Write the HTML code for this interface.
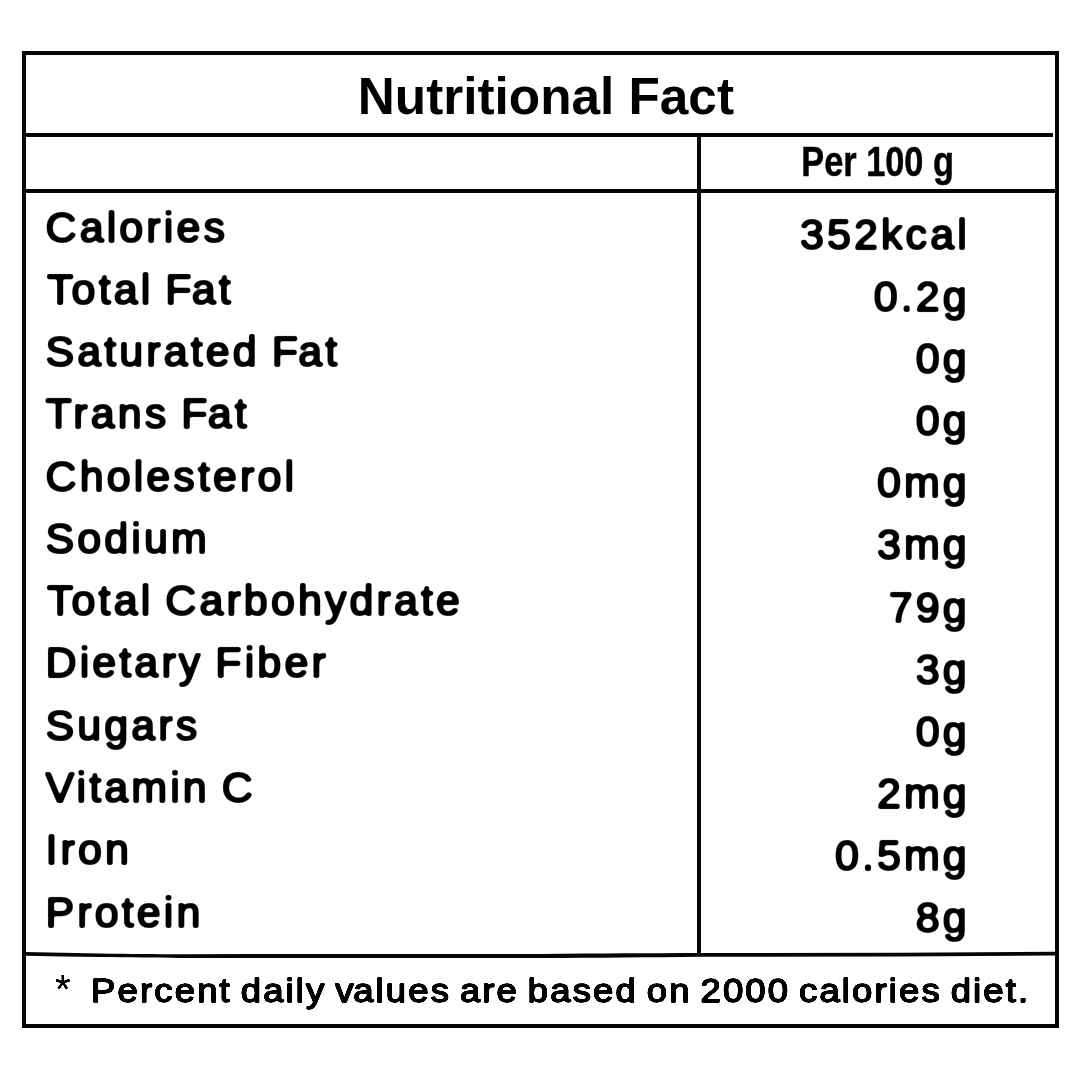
<!DOCTYPE html>
<html lang="en">
<head>
<meta charset="utf-8">
<title>Nutritional Fact</title>
<style>
html,body{margin:0;padding:0;background:#fff;}
body{width:1080px;height:1080px;overflow:hidden;}
svg{display:block;}
text{font-family:"Liberation Sans",sans-serif;fill:#000;}
.t{font-weight:700;font-size:51.3px;text-anchor:middle;}
.p{font-weight:700;font-size:42.5px;text-anchor:middle;stroke:#000;stroke-width:0.5;}
.l,.v{font-size:43px;letter-spacing:3.1px;word-spacing:-3.1px;stroke:#000;stroke-width:2.0;stroke-linejoin:round;stroke-linecap:round;}
.v{text-anchor:end;}
.f{font-size:33px;letter-spacing:1.93px;word-spacing:-3.1px;stroke:#000;stroke-width:1.5;stroke-linejoin:round;stroke-linecap:round;}
.a{font-size:40px;stroke:#000;stroke-width:0.2;stroke-linejoin:round;}
</style>
</head>
<body>
<svg width="1080" height="1080" viewBox="0 0 1080 1080">
<rect x="0" y="0" width="1080" height="1080" fill="#fff"/>
<defs>
<filter id="rnd" x="0" y="0" width="1080" height="1080" filterUnits="userSpaceOnUse" color-interpolation-filters="sRGB">
<feGaussianBlur in="SourceAlpha" stdDeviation="1.0"/>
<feComponentTransfer><feFuncA type="linear" slope="2.6" intercept="-0.8"/></feComponentTransfer>
</filter>
<filter id="rnd2" x="0" y="940" width="1080" height="100" filterUnits="userSpaceOnUse" color-interpolation-filters="sRGB">
<feGaussianBlur in="SourceAlpha" stdDeviation="0.75"/>
<feComponentTransfer><feFuncA type="linear" slope="2.2" intercept="-0.6"/></feComponentTransfer>
</filter>
</defs>
<g fill="#03070b">
<rect x="22" y="51" width="1037" height="4"/>
<rect x="22" y="1024" width="1037" height="4"/>
<rect x="22" y="51" width="4" height="977"/>
<rect x="1055" y="51" width="4" height="977"/>
<rect x="24" y="133" width="1029" height="4"/>
<rect x="24" y="189" width="1033" height="4"/>
<rect x="697" y="135" width="4" height="820"/>
<path d="M25 952.1 C 50 952.8 75 953.2 100 953.4 C 130 953.8 155 954.1 180 954.2 L 400 953.9 L 540 953.9 C 600 953.6 650 953.3 700 953.1 L 900 952.7 L 1056 951.7 L 1056 955.4 L 900 956.6 L 700 956.7 C 650 957.2 600 957.8 540 958 L 400 958 L 180 958 C 155 957.9 130 957.5 100 957.1 C 75 956.8 50 956.3 25 955.7 Z"/>
</g>

<text class="t" x="545.9" y="113.8">Nutritional Fact</text>
<text class="p" transform="translate(877.6 175.8) scale(0.808 1)" x="0" y="0">Per 100 g</text>
<g filter="url(#rnd)">
<text class="l" x="45.5" y="241.60">Calories</text>
<text class="v" x="969.9" y="248.60">352kcal</text>
<text class="l" x="47.0" y="303.87" dx="0 0 0 0 0 0 0 -3">Total Fat</text>
<text class="v" x="969.9" y="310.75">0.2g</text>
<text class="l" x="45.5" y="366.14" dx="0 0 0 0 0 0 0 0 0 0 0 -3">Saturated Fat</text>
<text class="v" x="969.9" y="372.90">0g</text>
<text class="l" x="45.5" y="428.41" dx="0 0 0 0 0 0 0 -3">Trans Fat</text>
<text class="v" x="969.9" y="435.05">0g</text>
<text class="l" x="45.5" y="490.68">Cholesterol</text>
<text class="v" x="969.9" y="497.20">0mg</text>
<text class="l" x="45.5" y="552.95">Sodium</text>
<text class="v" x="969.9" y="559.35">3mg</text>
<text class="l" x="47.0" y="615.22">Total Carbohydrate</text>
<text class="v" x="969.9" y="621.50">79g</text>
<text class="l" x="45.5" y="677.49">Dietary Fiber</text>
<text class="v" x="969.9" y="683.65">3g</text>
<text class="l" x="45.5" y="739.76">Sugars</text>
<text class="v" x="969.9" y="745.80">0g</text>
<text class="l" x="45.5" y="802.03">Vitamin C</text>
<text class="v" x="969.9" y="807.95">2mg</text>
<text class="l" x="45.5" y="864.30">Iron</text>
<text class="v" x="969.9" y="870.10">0.5mg</text>
<text class="l" x="45.5" y="926.57">Protein</text>
<text class="v" x="969.9" y="932.25">8g</text>
</g>
<g filter="url(#rnd2)">
<text class="a" x="55" y="1002.5">*</text>
<text class="f" transform="translate(91.1 1001.5) scale(1.106 1)" x="0" y="0" dx="0 0 0 0 0 0 0 0 0 0 0 0 0 0 0 -2.3">Percent daily values are based on 2000 calories diet.</text>
</g>
</svg>
</body>
</html>
